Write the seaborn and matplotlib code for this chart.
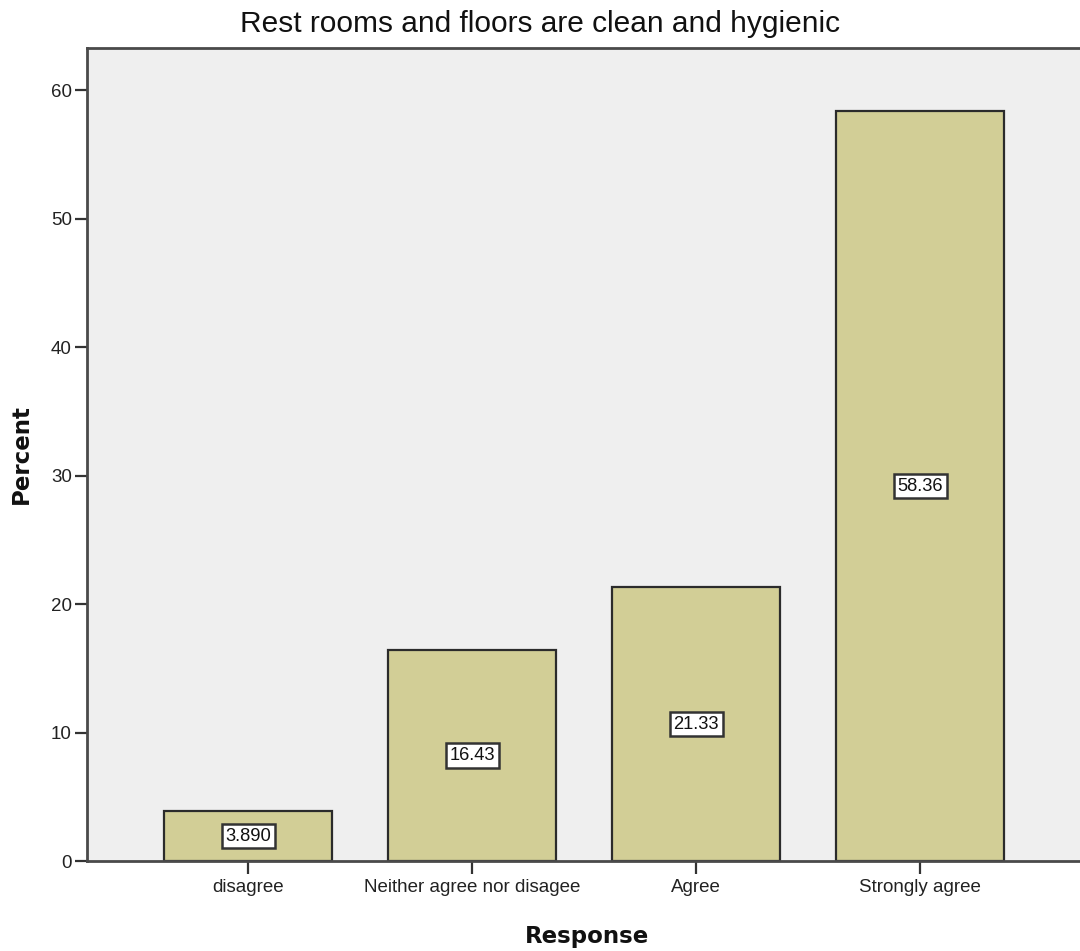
import matplotlib
matplotlib.use("Agg")
import matplotlib.pyplot as plt
import seaborn as sns
import pandas as pd

# Survey responses and their share of respondents (%)
responses = ["disagree", "Neither agree nor disagee", "Agree", "Strongly agree"]
percent = [3.890, 16.43, 21.33, 58.36]

title = "Rest rooms and floors are clean and hygienic"
y_ticks = [0, 10, 20, 30, 40, 50, 60]

df = pd.DataFrame({"Response": responses, "Percent": percent})

sns.set_theme(style="white")
plt.rcParams["font.family"] = ["Liberation Sans", "DejaVu Sans"]

fig = plt.figure(figsize=(10.8, 9.51), dpi=100)
ax = fig.add_axes([0.0806, 0.0946, 0.925, 0.855])
ax.set_facecolor("#efefef")

sns.barplot(data=df, x="Response", y="Percent", order=responses,
            color="#d2ce96", saturation=1, width=0.75,
            edgecolor="#2b2b2b", linewidth=1.6, ax=ax)

# Value boxes at the middle of each bar
for i, v in enumerate(percent):
    ax.text(i, v / 2, format(v, "#.4g"), ha="center", va="center",
            fontsize=13.2, color="#111111",
            bbox=dict(boxstyle="square,pad=0.2", facecolor="white",
                      edgecolor="#333333", linewidth=1.8))

ax.set_xlim(-0.72, 3.74)
ax.set_ylim(0, 63.3)
ax.set_yticks(y_ticks)

for side in ["left", "top", "bottom"]:
    ax.spines[side].set_visible(True)
    ax.spines[side].set_color("#4a4a4a")
    ax.spines[side].set_linewidth(2.0)
ax.spines["right"].set_visible(False)

ax.tick_params(axis="both", which="major", direction="out", length=9,
               width=1.6, color="#333333", labelsize=13.5,
               labelcolor="#222222", pad=2)
ax.tick_params(axis="x", pad=4, bottom=True)
ax.tick_params(axis="y", left=True)

ax.set_xlabel("Response", fontsize=16.5, fontweight="bold",
              family="DejaVu Sans", labelpad=21, color="#111111")
ax.set_ylabel("Percent", fontsize=16.5, fontweight="bold",
              family="DejaVu Sans", color="#111111")
ax.yaxis.set_label_coords(-0.054, 0.5)

fig.text(0.5, 0.975, title, ha="center", va="center", fontsize=21.5,
         color="#111111")

fig.savefig("out.png", dpi=100, facecolor="white")
